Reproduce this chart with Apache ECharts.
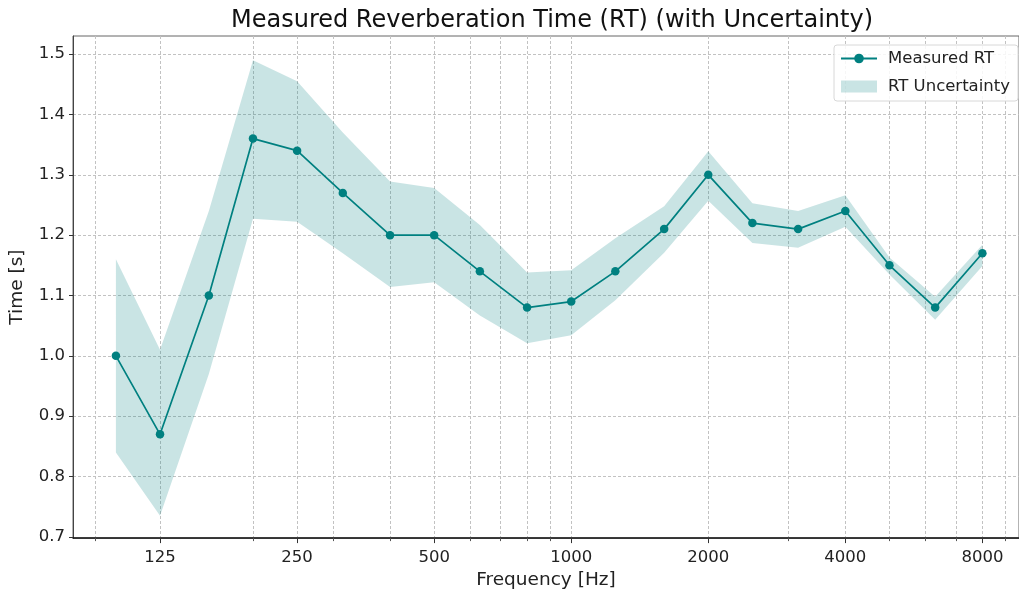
<!DOCTYPE html>
<html>
<head>
<meta charset="utf-8">
<script src="https://cdn.jsdelivr.net/npm/echarts@6/dist/echarts.min.js"></script>
<style>
  html, body { margin: 0; padding: 0; background: #fff; }
  #chart { width: 1019px; height: 595px; }
</style>
</head>
<body>
<div id="chart"></div>
<script>
// 1/3 octave bands and measured values
const freqs = [100, 125, 160, 200, 250, 315, 400, 500, 630, 800, 1000, 1250, 1600, 2000, 2500, 3150, 4000, 5000, 6300, 8000];
const rtValues = [1.00, 0.87, 1.10, 1.36, 1.34, 1.27, 1.20, 1.20, 1.14, 1.08, 1.09, 1.14, 1.21, 1.30, 1.22, 1.21, 1.24, 1.15, 1.08, 1.17];
const rtUpper = [1.16, 1.01, 1.24, 1.49, 1.455, 1.37, 1.289, 1.278, 1.217, 1.138, 1.142, 1.195, 1.248, 1.339, 1.253, 1.24, 1.266, 1.163, 1.098, 1.184];
const rtLower = [0.84, 0.735, 0.97, 1.227, 1.222, 1.17, 1.114, 1.122, 1.067, 1.021, 1.034, 1.092, 1.171, 1.257, 1.187, 1.179, 1.214, 1.135, 1.06, 1.149];

const majorTicks = [125, 250, 500, 1000, 2000, 4000, 8000];
const minorTicks = [90, 200, 300, 400, 600, 700, 800, 900, 3000, 5000, 6000, 7000, 9000];
const yTicks = [0.7, 0.8, 0.9, 1.0, 1.1, 1.2, 1.3, 1.4, 1.5];

// x axis is drawn in octaves relative to 125 Hz (log2 scale)
const REF = 125;
const toX = f => Math.log2(f / REF);
const X_MIN = -0.635;
const X_MAX = 6.267;

const FONT = 'DejaVu Sans';
const teal = '#008080';
const bandFill = 'rgba(0,128,128,0.21)';
const gridLine = { show: true, lineStyle: { color: '#c2c2c2', type: [3, 2], width: 1 } };

const chart = echarts.init(document.getElementById('chart'));

chart.setOption({
    backgroundColor: '#fff',
    animation: false,
    textStyle: { fontFamily: FONT },
    title: {
        text: 'Measured Reverberation Time (RT) (with Uncertainty)',
        left: 547,
        top: 4,
        textAlign: 'center',
        textStyle: { fontFamily: FONT, fontSize: 24, fontWeight: 'normal', color: '#111' }
    },
    legend: {
        right: 1,
        top: 45,
        orient: 'vertical',
        itemWidth: 36,
        itemHeight: 12,
        itemGap: 11,
        padding: [5, 8, 6, 6],
        backgroundColor: 'rgba(255,255,255,0.85)',
        borderColor: '#d8d8d8',
        borderWidth: 1,
        borderRadius: 3,
        textStyle: { fontFamily: FONT, fontSize: 16.5, color: '#222', padding: [0, 0, 0, 6] },
        data: [
            { name: 'Measured RT' },
            { name: 'RT Uncertainty', icon: 'rect' }
        ]
    },
    grid: {
        left: 71,
        right: -1,
        top: 36,
        bottom: 51,
        show: true,
        borderColor: '#666',
        borderWidth: 1
    },
    xAxis: [
        {
            type: 'value',
            min: X_MIN,
            max: X_MAX,
            name: 'Frequency [Hz]',
            nameLocation: 'middle',
            nameGap: 29,
            nameTextStyle: { fontFamily: FONT, fontSize: 18.5, color: '#222' },
            axisLine: { show: true, onZero: false, lineStyle: { color: '#111', width: 1.5 } },
            axisTick: { show: true, length: 5, customValues: majorTicks.map(toX), lineStyle: { color: '#333' } },
            axisLabel: {
                customValues: majorTicks.map(toX),
                fontFamily: FONT, fontSize: 16.5, color: '#222', margin: 11,
                formatter: v => String(Math.round(REF * Math.pow(2, v)))
            },
            splitLine: gridLine
        },
        {
            type: 'value',
            min: X_MIN,
            max: X_MAX,
            position: 'bottom',
            axisLine: { show: false, onZero: false },
            axisTick: { show: true, length: 3, customValues: minorTicks.map(toX), lineStyle: { color: '#555' } },
            axisLabel: { show: false },
            splitLine: gridLine
        }
    ],
    yAxis: {
        type: 'value',
        min: 0.698,
        max: 1.530,
        name: 'Time [s]',
        nameLocation: 'middle',
        nameGap: 46,
        nameTextStyle: { fontFamily: FONT, fontSize: 18.5, color: '#222' },
        axisLine: { show: true, onZero: false, lineStyle: { color: '#444', width: 1 } },
        axisTick: { show: true, length: 4, customValues: yTicks, lineStyle: { color: '#333' } },
        axisLabel: {
            customValues: yTicks,
            fontFamily: FONT, fontSize: 16.5, color: '#222', margin: 8,
            formatter: v => v.toFixed(1)
        },
        splitLine: gridLine
    },
    series: [
        {
            // uncertainty band: one polygon, upper edge forward then lower edge back
            name: 'RT Uncertainty',
            type: 'custom',
            data: freqs.map((f, i) => [toX(f), rtLower[i], rtUpper[i]]),
            encode: { x: 0, y: [1, 2] },
            itemStyle: { color: bandFill },
            silent: true,
            z: 1,
            renderItem: (params, api) => {
                if (params.dataIndexInside !== 0) return;
                const n = params.dataInsideLength;
                const pts = [];
                for (let i = 0; i < n; i++) {
                    pts.push(api.coord([api.value(0, i), api.value(2, i)]));
                }
                for (let i = n - 1; i >= 0; i--) {
                    pts.push(api.coord([api.value(0, i), api.value(1, i)]));
                }
                return {
                    type: 'polygon',
                    shape: { points: pts },
                    style: { fill: bandFill }
                };
            }
        },
        {
            name: 'Measured RT',
            type: 'line',
            data: freqs.map((f, i) => [toX(f), rtValues[i]]),
            symbol: 'circle',
            symbolSize: 8.5,
            color: teal,
            lineStyle: { color: teal, width: 1.7 },
            itemStyle: { color: teal },
            z: 3
        }
    ]
});
</script>
</body>
</html>
